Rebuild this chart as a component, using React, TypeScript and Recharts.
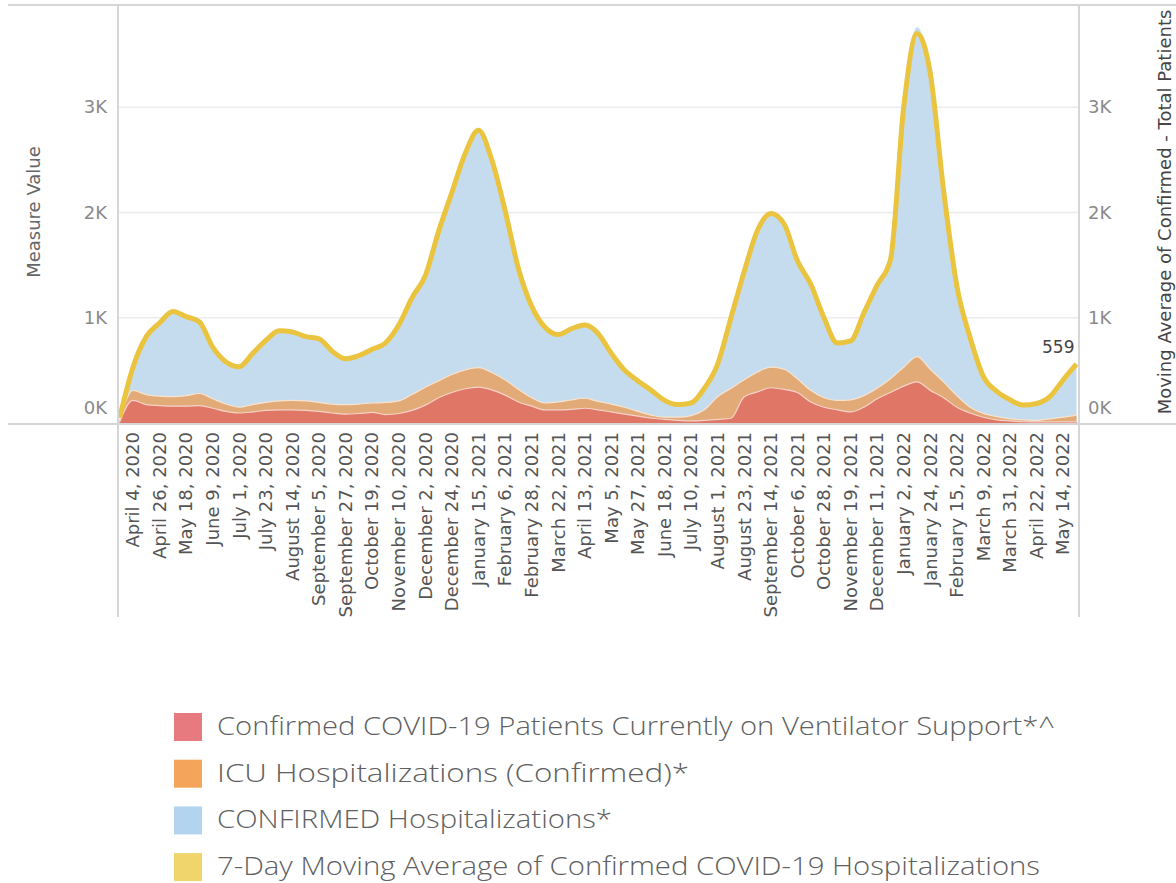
import React from 'react';
import { ComposedChart, Area, Line, XAxis, YAxis, CartesianGrid, LabelList } from 'recharts';

// x-axis tick labels (every 22 days)
const tickLabels = [
  'April 4, 2020', 'April 26, 2020', 'May 18, 2020', 'June 9, 2020', 'July 1, 2020',
  'July 23, 2020', 'August 14, 2020', 'September 5, 2020', 'September 27, 2020',
  'October 19, 2020', 'November 10, 2020', 'December 2, 2020', 'December 24, 2020',
  'January 15, 2021', 'February 6, 2021', 'February 28, 2021', 'March 22, 2021',
  'April 13, 2021', 'May 5, 2021', 'May 27, 2021', 'June 18, 2021', 'July 10, 2021',
  'August 1, 2021', 'August 23, 2021', 'September 14, 2021', 'October 6, 2021',
  'October 28, 2021', 'November 19, 2021', 'December 11, 2021', 'January 2, 2022',
  'January 24, 2022', 'February 15, 2022', 'March 9, 2022', 'March 31, 2022',
  'April 22, 2022', 'May 14, 2022',
];

// samples every 11 days starting March 24, 2020
const firstSampleDate = 'March 24, 2020';
const sampleStepDays = 11;

const confirmed = [
  40, 560, 830, 950, 1070, 990, 985, 720, 575, 540,
  660, 790, 880, 860, 830, 800, 670, 615, 635, 705,
  770, 940, 1200, 1420, 1840, 2210, 2580, 2800, 2500, 2010,
  1450, 1100, 905, 840, 900, 925, 850, 650, 495, 395,
  305, 210, 172, 195, 340, 575, 1010, 1460, 1860, 2010,
  1880, 1550, 1320, 990, 750, 785, 1060, 1320, 1570, 3050,
  3760, 3330, 2190, 1280, 800, 430, 295, 205, 160, 185,
  255, 420, 570,
];

const icu = [
  20, 310, 270, 255, 250, 260, 280, 230, 180, 150,
  175, 195, 210, 215, 210, 195, 180, 175, 180, 190,
  195, 210, 270, 340, 400, 460, 505, 525, 480, 410,
  320, 240, 190, 200, 220, 235, 205, 180, 150, 110,
  75, 55, 55, 70, 125, 250, 330, 410, 485, 530,
  510, 420, 310, 240, 215, 220, 260, 330, 420, 530,
  630, 510, 390, 260, 150, 90, 60, 40, 30, 25,
  40, 55, 75,
];

const ventilator = [
  10, 215, 175, 165, 160, 160, 165, 140, 110, 95,
  105, 120, 125, 125, 120, 110, 95, 85, 90, 100,
  80, 90, 120, 170, 240, 290, 325, 340, 315, 265,
  200, 160, 125, 125, 130, 140, 125, 105, 85, 65,
  45, 35, 25, 20, 25, 35, 45, 250, 295, 335,
  320, 290, 200, 150, 125, 105, 150, 230, 290, 350,
  390, 310, 240, 150, 95, 55, 30, 20, 12, 10,
  10, 10, 10,
];

const movingAvg = [
  50, 530, 820, 950, 1060, 1010, 960, 720, 580, 535,
  660, 785, 875, 865, 820, 800, 680, 610, 640, 700,
  760, 930, 1190, 1400, 1820, 2190, 2560, 2780, 2500, 2020,
  1470, 1110, 910, 840, 895, 930, 850, 660, 500, 400,
  310, 215, 175, 190, 330, 560, 1000, 1440, 1830, 1990,
  1890, 1540, 1320, 1000, 760, 780, 1045, 1310, 1550, 3000,
  3700, 3320, 2210, 1300, 810, 440, 300, 220, 170, 185,
  250, 410, 559,
];

const yTicks = [0, 1000, 2000, 3000];

const legendItems = [
  { label: 'Confirmed COVID-19 Patients Currently on Ventilator Support*^', color: '#e77a7e', width: 838 },
  { label: 'ICU Hospitalizations (Confirmed)*', color: '#f4a55b', width: 472 },
  { label: 'CONFIRMED Hospitalizations*', color: '#b3d4ee', width: 395 },
  { label: '7-Day Moving Average of Confirmed COVID-19 Hospitalizations', color: '#f0d46c', width: 823 },
];

const DAY_MS = 86400000;
const origin = Date.parse(tickLabels[0]);
const toDay = (s: string) => Math.round((Date.parse(s) - origin) / DAY_MS);

const startDay = toDay(firstSampleDate);
const data = confirmed.map((c, i) => ({
  day: startDay + i * sampleStepDays,
  confirmed: c,
  icu: icu[i],
  ventilator: ventilator[i],
  movingAvg: movingAvg[i],
}));

const tickDays = tickLabels.map(toDay);
const labelByDay = new Map(tickDays.map((d, k) => [d, tickLabels[k]]));

const FONT = '"DejaVu Sans", sans-serif';
const fmtK = (v: number) => `${Math.round(v / 1000)}K`;

const DateTick = (props: any) => {
  const { x, y, payload } = props;
  const ty = y + 1;
  return (
    <text x={x} y={ty} transform={`rotate(-90 ${x} ${ty})`} textAnchor="end" dy="0.35em"
      fill="#555" fontSize={18} fontFamily={FONT}>
      {labelByDay.get(payload.value)}
    </text>
  );
};

const LeftTick = (props: any) => {
  const { y, payload } = props;
  return (
    <text x={107} y={payload.value === 0 ? y - 15 : y} dy="0.35em" textAnchor="end"
      fill="#8a8a8a" fontSize={18} fontFamily={FONT}>
      {fmtK(payload.value)}
    </text>
  );
};

const RightTick = (props: any) => {
  const { y, payload } = props;
  return (
    <text x={1088} y={payload.value === 0 ? y - 15 : y} dy="0.35em" textAnchor="start"
      fill="#8a8a8a" fontSize={18} fontFamily={FONT}>
      {fmtK(payload.value)}
    </text>
  );
};

const LastValueLabel = (props: any) => {
  const { x, y, value, index } = props;
  if (index !== movingAvg.length - 1) return null;
  return (
    <text x={x - 2} y={y - 17} dy="0.35em" textAnchor="end" fill="#444" fontSize={17} fontFamily={FONT}>
      {value}
    </text>
  );
};

const App: React.FC = () => {
  return (
    <div style={{ position: 'absolute', left: 0, top: 0, width: 1176, height: 883, background: '#fff' }}>
      <ComposedChart width={1176} height={640} data={data}
        margin={{ top: 5, right: 0, bottom: 23, left: 0 }}>
        <CartesianGrid yAxisId="left" vertical={false} stroke="#ececec" strokeWidth={1.5} />
        <XAxis dataKey="day" type="number" domain={[-12.4, 783.1]} ticks={tickDays}
          tick={<DateTick />} height={194} axisLine={false} tickLine={false} interval={0} />
        <YAxis yAxisId="left" width={118} domain={[0, 3970]} ticks={yTicks}
          tick={<LeftTick />} axisLine={false} tickLine={false} />
        <YAxis yAxisId="right" orientation="right" width={97} domain={[0, 3970]} ticks={yTicks}
          tick={<RightTick />} axisLine={false} tickLine={false} />
        <Area yAxisId="left" type="monotone" dataKey="confirmed" fill="#c5dcee" fillOpacity={1}
          stroke="#e6f0f8" strokeWidth={1} isAnimationActive={false} dot={false} activeDot={false} />
        <Area yAxisId="left" type="monotone" dataKey="icu" fill="#e2aa77" fillOpacity={1}
          stroke="#f7e3d0" strokeWidth={1.2} isAnimationActive={false} dot={false} activeDot={false} />
        <Area yAxisId="left" type="monotone" dataKey="ventilator" fill="#e07766" fillOpacity={1}
          stroke="#f5d3ca" strokeWidth={1.2} isAnimationActive={false} dot={false} activeDot={false} />
        <Line yAxisId="right" type="monotone" dataKey="movingAvg" stroke="#ebc43f" strokeWidth={5}
          dot={false} activeDot={false} isAnimationActive={false}>
          <LabelList dataKey="movingAvg" content={<LastValueLabel />} />
        </Line>
      </ComposedChart>

      <svg width={1176} height={883} style={{ position: 'absolute', left: 0, top: 0, pointerEvents: 'none' }}>
        <line x1={8} y1={5} x2={1176} y2={5} stroke="#d6d6d6" strokeWidth={2} />
        <line x1={8} y1={424} x2={1176} y2={424} stroke="#d6d6d6" strokeWidth={2} />
        <line x1={118} y1={5} x2={118} y2={617} stroke="#d6d6d6" strokeWidth={2} />
        <line x1={1079} y1={5} x2={1079} y2={617} stroke="#d6d6d6" strokeWidth={2} />
        <text x={34} y={212} transform="rotate(-90 34 212)" textAnchor="middle" dy="0.35em"
          fill="#666" fontSize={18} fontFamily={FONT}>Measure Value</text>
        <text x={1165} y={212} transform="rotate(-90 1165 212)" textAnchor="middle" dy="0.35em"
          fill="#454545" fontSize={18} fontFamily={FONT}>Moving Average of Confirmed - Total Patients</text>

        {legendItems.map((item, k) => {
          const top = 713 + k * 46.7;
          return (
            <g key={item.label}>
              <rect x={174} y={top} width={28} height={28} fill={item.color} />
              <text x={217} y={top + 13} dy="0.36em" fill="#606060" fontSize={25} fontWeight={300}
                fontFamily='"Open Sans", sans-serif' textLength={item.width} lengthAdjust="spacingAndGlyphs">
                {item.label}
              </text>
            </g>
          );
        })}
      </svg>
    </div>
  );
};

export default App;
